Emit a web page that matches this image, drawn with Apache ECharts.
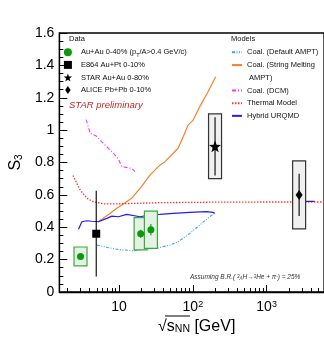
<!DOCTYPE html>
<html>
<head>
<meta charset="utf-8">
<script src="https://cdn.jsdelivr.net/npm/echarts@6/dist/echarts.min.js"></script>
<style>
  html, body { margin: 0; padding: 0; background: #fff; }
  #chart { width: 324px; height: 344px; }
</style>
</head>
<body>
<div id="chart"></div>
<script>
// Measured points: x = sqrt(sNN) [GeV], y = S3
const auAuX = [3.0, 19.6, 27.0]
const auAuY = [0.22, 0.36, 0.385]
const auAuStat = [0.01, 0.025, 0.035]
const auAuSys = [0.058, 0.10, 0.115]

const e864X = [4.9]
const e864Y = [0.36]
const e864Stat = [0.265]

const starX = [200]
const starY = [0.9]
const starStat = [0.18]
const starSys = [0.2]

const aliceX = [2760]
const aliceY = [0.6]
const aliceStat = [0.13]
const aliceSys = [0.21]

// Model curves
const defAmptX = [5, 7, 10, 15.6, 23.6, 32, 49, 63, 91, 124, 169, 198]
const defAmptY = [0.29, 0.275, 0.262, 0.255, 0.265, 0.27, 0.29, 0.31, 0.362, 0.414, 0.465, 0.486]

const smAmptX = [5.2, 6.1, 7.6, 9.3, 11.4, 14.8, 20, 26, 36, 42, 63, 74, 86, 101, 124, 161, 204]
const smAmptY = [0.434, 0.455, 0.486, 0.517, 0.544, 0.579, 0.65, 0.72, 0.785, 0.805, 0.888, 0.959, 1.031, 1.062, 1.145, 1.237, 1.33]

const dcmX = [3.58, 4.06, 4.89, 5.83, 6.8, 8.4, 9.8, 10.9, 14.8, 17]
const dcmY = [1.065, 0.98, 0.964, 0.928, 0.898, 0.857, 0.82, 0.774, 0.764, 0.737]

const thermalX = [2.37, 2.97, 3.66, 4.45, 6.1, 10.3, 35.8, 200, 1000, 6000]
const thermalY = [0.72, 0.63, 0.579, 0.558, 0.545, 0.545, 0.552, 0.555, 0.556, 0.556]

const hybridX = [2.82, 3.13, 3.66, 4.27, 5.25, 6.82, 7.97, 9.8, 12.7, 19.2, 26.2, 35.8, 54, 91, 153, 188, 198]
const hybridY = [0.387, 0.434, 0.44, 0.437, 0.434, 0.455, 0.469, 0.465, 0.48, 0.465, 0.476, 0.48, 0.486, 0.492, 0.496, 0.492, 0.486]
const hybridLhcX = [2250, 4460]
const hybridLhcY = [0.56, 0.56]

// Axis ticks
const xMajorTicks = [10, 100, 1000]
const xMinorTicks = [2, 3, 4, 5, 6, 7, 8, 9, 20, 30, 40, 50, 60, 70, 80, 90,
  200, 300, 400, 500, 600, 700, 800, 900, 2000, 3000, 4000, 5000]

const FONT = "Liberation Sans"
const X_MIN = 1.55
const X_MAX = 6000

const STAR_PATH = "path://M0,-10L2.35,-3.24L9.51,-3.09L3.8,1.24L5.88,8.09L0,4.2L-5.88,8.09L-3.8,1.24L-9.51,-3.09L-2.35,-3.24Z"
const SQUARE_PATH = "path://M-1,-1L1,-1L1,1L-1,1Z"
const DIAMOND_PATH = "path://M0,-1.45L1,0L0,1.45L-1,0Z"

const zip = (xs, ys) => xs.map((x, i) => [x, ys[i]])
const withErr = (xs, ys, stat, sys) => xs.map((x, i) => [x, ys[i], stat[i], sys ? sys[i] : 0])

// error bar + systematic box drawn through the axes
function errorRenderer(barColor, boxFill, boxStroke) {
  return function (params, api) {
    const x = api.value(0)
    const y = api.value(1)
    const stat = api.value(2)
    const sys = api.value(3)
    const children = []
    if (sys > 0) {
      const top = api.coord([x, y + sys])
      const bot = api.coord([x, y - sys])
      children.push({
        type: "rect",
        shape: { x: top[0] - 6.5, y: top[1], width: 13, height: bot[1] - top[1] },
        style: { fill: boxFill, stroke: boxStroke, lineWidth: 1.2 },
      })
    }
    const a = api.coord([x, y + stat])
    const b = api.coord([x, y - stat])
    children.push({
      type: "line",
      shape: { x1: a[0], y1: a[1], x2: b[0], y2: b[1] },
      style: { stroke: barColor, lineWidth: 1.1 },
    })
    return { type: "group", children: children }
  }
}

function errSeries(data, barColor, boxFill, boxStroke) {
  return {
    type: "custom",
    name: "_err",
    data: data,
    encode: { x: 0, y: 1 },
    renderItem: errorRenderer(barColor, boxFill, boxStroke),
    z: 3,
    silent: true,
  }
}

function lineSeries(name, data, color, width, type) {
  return {
    type: "line",
    name: name,
    data: data,
    showSymbol: false,
    symbol: "none",
    smooth: false,
    lineStyle: { color: color, width: width, type: type },
    itemStyle: { color: color },
    z: 2,
  }
}

const GREEN = "#0a9a0a"
const chart = echarts.init(document.getElementById("chart"), null, { renderer: "canvas" })

const modelLegend = {
  orient: "vertical",
  left: 231,
  top: 46,
  padding: 0,
  itemGap: 0,
  itemWidth: 10,
  itemHeight: 8,
  selectedMode: false,
  itemStyle: { opacity: 0, borderWidth: 0 },
  textStyle: { fontSize: 7.5, lineHeight: 12.7, color: "#111" },
}

const option = {
  animation: false,
  textStyle: { fontFamily: FONT },
  grid: { left: 59, right: -1, top: 33, bottom: 52, show: true, borderColor: "#000", borderWidth: 1.3, backgroundColor: "transparent" },
  xAxis: [
    {
      type: "log",
      logBase: 10,
      min: X_MIN,
      max: X_MAX,
      position: "bottom",
      name: "√{s|s}{sub|NN} [GeV]",
      nameLocation: "middle",
      nameGap: 18,
      nameTextStyle: {
        fontSize: 16, color: "#000", padding: [0, 0, 0, 10],
        rich: { s: { fontSize: 16 }, sub: { fontSize: 10.5, verticalAlign: "bottom", lineHeight: 12, padding: [4, 0, 0, 0] } },
      },
      axisLine: { show: true, lineStyle: { color: "#000", width: 1.3 } },
      axisTick: { show: true, inside: true, length: 7, customValues: xMajorTicks, lineStyle: { color: "#000", width: 1 } },
      axisLabel: {
        customValues: xMajorTicks,
        margin: 8,
        color: "#000",
        fontSize: 14,
        formatter: (v) => (v === 10 ? "10" : "10{sup|" + Math.round(Math.log10(v)) + "}"),
        rich: { sup: { fontSize: 9, verticalAlign: "top", lineHeight: 9 } },
      },
      splitLine: { show: false },
    },
    {
      type: "log",
      logBase: 10,
      min: X_MIN,
      max: X_MAX,
      position: "bottom",
      gridIndex: 0,
      axisLine: { show: false },
      axisTick: { show: true, inside: true, length: 4, customValues: xMinorTicks, lineStyle: { color: "#000", width: 1 } },
      axisLabel: { show: false },
      splitLine: { show: false },
    },
  ],
  yAxis: {
    type: "value",
    min: 0,
    max: 1.6,
    interval: 0.2,
    name: "{s|S}{sub|3}",
    nameLocation: "middle",
    nameRotate: 90,
    nameGap: 24,
    nameTextStyle: {
      color: "#000",
      rich: { s: { fontSize: 16 }, sub: { fontSize: 10, verticalAlign: "bottom", lineHeight: 12, padding: [5, 0, 0, 0] } },
    },
    axisLine: { show: true, lineStyle: { color: "#000", width: 1.3 } },
    axisTick: { show: true, inside: true, length: 8, lineStyle: { color: "#000", width: 1 } },
    minorTick: { show: true, splitNumber: 4, length: 4, lineStyle: { color: "#000", width: 1 } },
    axisLabel: { color: "#000", fontSize: 14, margin: 5 },
    splitLine: { show: false },
  },
  legend: [
    {
      orient: "vertical",
      left: 63.7,
      top: 46,
      padding: 0,
      itemGap: 0,
      itemWidth: 16,
      itemHeight: 8,
      symbolKeepAspect: true,
      selectedMode: false,
      data: ["Au+Au 0-40% (pT/A>0.4 GeV/c)", "E864 Au+Pt 0-10%", "STAR Au+Au 0-80%", "ALICE Pb+Pb 0-10%"],
      formatter: (name) => name.replace("(pT", "(p{sub|T}"),
      textStyle: {
        fontSize: 7.5, lineHeight: 12.6, color: "#111",
        rich: { sub: { fontSize: 5.5, verticalAlign: "bottom", lineHeight: 9 } },
      },
    },
    Object.assign({}, modelLegend, { data: ["Coal. (Default AMPT)"] }),
    Object.assign({}, modelLegend, {
      data: ["Coal. (String Melting AMPT)", "Coal. (DCM)", "Thermal Model", "Hybrid URQMD"],
      formatter: (name) => (name === "Coal. (String Melting AMPT)" ? "\nCoal. (String Melting\n AMPT)" : name),
    }),
  ],
  graphic: [
    { type: "text", left: 69, top: 35, style: { text: "Data", font: "7.5px " + FONT, fill: "#111" } },
    { type: "text", left: 231, top: 35, style: { text: "Models", font: "7.5px " + FONT, fill: "#111" } },
    { type: "text", left: 69, top: 100, style: { text: "STAR preliminary", font: "italic 9.5px " + FONT, fill: "#c0282d" } },
    // bar of the square root sign
    { type: "line", shape: { x1: 165, y1: 316, x2: 190, y2: 316 }, style: { stroke: "#000", lineWidth: 1 } },
    {
      type: "text",
      left: 190,
      top: 273,
      style: {
        text: "Assuming B.R.( {sup|3}{sub|Λ}H→{sup|3}He + π{sup|-}) = 25%",
        font: "italic 6.5px " + FONT,
        fill: "#333",
        rich: {
          sup: { fontSize: 4.5, fontStyle: "italic", verticalAlign: "top", lineHeight: 5 },
          sub: { fontSize: 4.5, fontStyle: "italic", verticalAlign: "bottom", lineHeight: 5, padding: [3, 0, 0, 0] },
        },
      },
    },
  ],
  series: [
    lineSeries("Coal. (Default AMPT)", zip(defAmptX, defAmptY), "#3aa0ff", 1.1, [3, 1.5, 1, 1.5, 1, 1.5]),
    lineSeries("Coal. (String Melting AMPT)", zip(smAmptX, smAmptY), "#f7812a", 1.2, "solid"),
    lineSeries("Coal. (DCM)", zip(dcmX, dcmY), "#ff33ff", 1.1, [4, 2, 1, 2]),
    lineSeries("Thermal Model", zip(thermalX, thermalY), "#ff3030", 1.3, [1.5, 1.5]),
    lineSeries("Hybrid URQMD", zip(hybridX, hybridY), "#2020ee", 1.2, "solid"),
    lineSeries("Hybrid URQMD", zip(hybridLhcX, hybridLhcY), "#2020ee", 1.2, "solid"),

    errSeries(withErr(auAuX, auAuY, auAuStat, auAuSys), GREEN, "#e4f2e4", "#3aaa3a"),
    errSeries(withErr(e864X, e864Y, e864Stat, null), "#000", "none", "none"),
    errSeries(withErr(starX, starY, starStat, starSys), "#000", "#f0f0f0", "#333"),
    errSeries(withErr(aliceX, aliceY, aliceStat, aliceSys), "#000", "#f0f0f0", "#333"),

    { type: "scatter", name: "Au+Au 0-40% (pT/A>0.4 GeV/c)", data: zip(auAuX, auAuY), symbol: "circle", symbolSize: 7, itemStyle: { color: GREEN, opacity: 1 }, z: 4 },
    { type: "scatter", name: "E864 Au+Pt 0-10%", data: zip(e864X, e864Y), symbol: SQUARE_PATH, symbolSize: 8, itemStyle: { color: "#000", opacity: 1 }, z: 4 },
    { type: "scatter", name: "STAR Au+Au 0-80%", data: zip(starX, starY), symbol: STAR_PATH, symbolSize: 12, itemStyle: { color: "#000", opacity: 1 }, z: 4 },
    { type: "scatter", name: "ALICE Pb+Pb 0-10%", data: zip(aliceX, aliceY), symbol: DIAMOND_PATH, symbolSize: [7, 10], itemStyle: { color: "#000", opacity: 1 }, z: 4 },
  ],
}

chart.setOption(option)
</script>
</body>
</html>
